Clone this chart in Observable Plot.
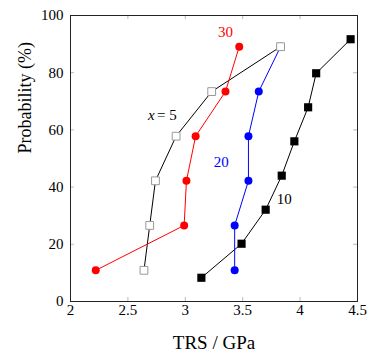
<!DOCTYPE html>
<html>
<head>
<meta charset="utf-8">
<script src="https://cdn.jsdelivr.net/npm/d3@7"></script>
<script src="https://cdn.jsdelivr.net/npm/@observablehq/plot@0.6"></script>
<style>
  html, body { margin: 0; padding: 0; background: #fff; }
  svg { display: block; }
  svg text { font-family: "Liberation Serif", "Times New Roman", serif !important; }
</style>
</head>
<body>
<div id="chart"></div>
<script>
// Cumulative probability (%) for 6-sample and 8-sample series
const probs6 = [10.9, 26.6, 42.2, 57.8, 73.4, 89.1];
const probs8 = [8.3, 20.2, 32.1, 44.0, 56.0, 67.9, 79.8, 91.7];
// TRS (GPa) for each series
const trs5  = [2.64, 2.69, 2.74, 2.92, 3.23, 3.83];
const trs10 = [3.14, 3.49, 3.70, 3.84, 3.95, 4.07, 4.14, 4.44];
const trs20 = [3.43, 3.43, 3.55, 3.55, 3.64, 3.83];
const trs30 = [2.22, 2.99, 3.01, 3.09, 3.35, 3.47];

const xTicks = [2, 2.5, 3, 3.5, 4, 4.5];
const yTicks = [0, 20, 40, 60, 80, 100];

const xLabel = "TRS / GPa";
const yLabel = "Probability (%)";

// Series labels
const seriesLabels = [
  {x: 3.35, y: 94.2, text: "30", color: "#ff0000"},
  {x: 3.313, y: 48.7, text: "20", color: "#0000ff"},
  {x: 3.863, y: 35.9, text: "10", color: "#000000"}
];
const x5Label = {x: 2.811, y: 65.0};

const mk = (xs, ps) => xs.map((x, i) => ({x, y: ps[i]}));
const s5 = mk(trs5, probs6);
const s10 = mk(trs10, probs8);
const s20 = mk(trs20, probs6);
const s30 = mk(trs30, probs6);

const font = "Liberation Serif";
const plotH = 353 - 15 - 52;
const plotW = 371 - 70 - 14;

const chart = Plot.plot({
  width: 371,
  height: 353,
  marginLeft: 70,
  marginRight: 14,
  marginTop: 15,
  marginBottom: 52,
  style: {fontFamily: font, background: "#fff", color: "#000"},
  x: {domain: [2, 4.5]},
  y: {domain: [0, 100]},
  marks: [
    // inward ticks
    Plot.ruleX(xTicks, {stroke: "#bbb", insetTop: plotH - 4}),
    Plot.ruleX(xTicks, {stroke: "#bbb", insetBottom: plotH - 4}),
    Plot.ruleY(yTicks, {stroke: "#bbb", insetRight: plotW - 4}),
    Plot.ruleY(yTicks, {stroke: "#bbb", insetLeft: plotW - 4}),
    Plot.frame({stroke: "#222"}),
    Plot.axisX({ticks: xTicks, tickSize: 0, tickPadding: 3, fontSize: 15, fontFamily: font, label: null, tickFormat: d => String(d)}),
    Plot.axisY({ticks: yTicks, tickSize: 0, tickPadding: 7, fontSize: 15, fontFamily: font, label: null, tickFormat: d => String(d)}),
    // lines
    Plot.line(s5, {x: "x", y: "y", stroke: "#000", strokeWidth: 1}),
    Plot.line(s10, {x: "x", y: "y", stroke: "#000", strokeWidth: 1}),
    Plot.line(s20, {x: "x", y: "y", stroke: "#0000ff", strokeWidth: 1}),
    Plot.line(s30, {x: "x", y: "y", stroke: "#ff0000", strokeWidth: 1}),
    // markers
    Plot.dot(s10, {x: "x", y: "y", symbol: "square", r: 4.6, fill: "#000"}),
    Plot.dot(s20, {x: "x", y: "y", symbol: "circle", r: 4, fill: "#0000ff"}),
    Plot.dot(s30, {x: "x", y: "y", symbol: "circle", r: 4, fill: "#ff0000"}),
    Plot.dot(s5, {x: "x", y: "y", symbol: "square", r: 4.4, fill: "#fff", stroke: "#999", strokeWidth: 1}),
    // series labels
    Plot.text(seriesLabels, {x: "x", y: "y", text: "text", fill: "color", fontSize: 15, fontFamily: font}),
    Plot.text([x5Label], {x: "x", y: "y", text: () => "x", fontStyle: "italic", textAnchor: "end", dx: -9, fontSize: 15, fontFamily: font}),
    Plot.text([x5Label], {x: "x", y: "y", text: () => "= 5", textAnchor: "start", dx: -6.5, fontSize: 15, fontFamily: font}),
    // axis titles
    Plot.text([xLabel], {frameAnchor: "bottom", text: d => d, dy: 41, fontSize: 19, fontFamily: font, lineAnchor: "middle"}),
    Plot.text([yLabel], {frameAnchor: "left", text: d => d, dx: -45, dy: -5, rotate: -90, fontSize: 18, fontFamily: font, lineAnchor: "middle"})
  ]
});

document.getElementById("chart").appendChild(chart);
</script>
</body>
</html>
